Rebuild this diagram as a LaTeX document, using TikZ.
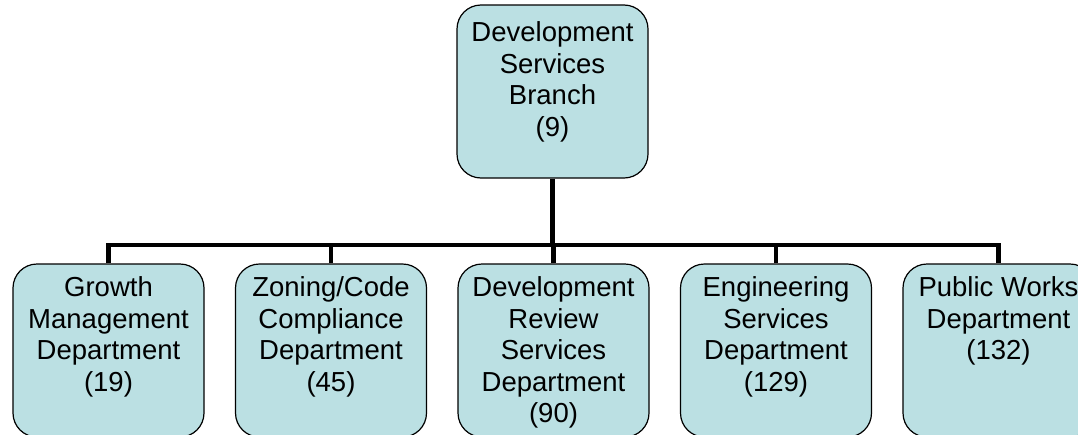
\documentclass[tikz,border=0pt]{standalone}
\usepackage{fontspec}
\setmainfont{Liberation Sans}
\usetikzlibrary{positioning}
\definecolor{cajacolor}{RGB}{187,224,227}
\tikzset{
  caja/.style={draw=black, line width=1.2pt, fill=cajacolor, rounded corners=24pt,
    minimum width=191pt, minimum height=173pt, inner sep=0pt},
  texto/.style={align=center, inner sep=0pt, font=\fontsize{27.5}{31.6}\selectfont},
  enlace/.style={line width=4.8pt},
}

\begin{document}
\begin{tikzpicture}[x=1pt, y=-1pt]
  % Marco de la figura
  \useasboundingbox (0,0) rectangle (1078,434);
  \clip (0,0) rectangle (1078,434);

  % Caja superior
  \node[caja] (rama) at (552.5,91.5) {};
  \node[texto, below=17pt of rama.north] (trama) {Development\\Services\\Branch\\(9)};

  % Cajas de los departamentos
  \node[caja] (gm) at (108.5,350.5) {};
  \node[caja] (zc) at (331,350.5) {};
  \node[caja] (dr) at (553.5,350.5) {};
  \node[caja] (es) at (776,350.5) {};
  \node[caja] (pw) at (998.5,350.5) {};

  % Textos de los departamentos
  \node[texto, below=13pt of gm.north] (tgm) {Growth\\Management\\Department\\(19)};
  \node[texto, below=13pt of zc.north] (tzc) {Zoning/Code\\Compliance\\Department\\(45)};
  \node[texto, below=13pt of dr.north] (tdr) {Development\\Review\\Services\\Department\\(90)};
  \node[texto, below=13pt of es.north] (tes) {Engineering\\Services\\Department\\(129)};
  \node[texto, below=13pt of pw.north] (tpw) {Public Works\\Department\\(132)};

  % Barra de enlace
  \coordinate (bus) at (552.5,245);
  \draw[enlace] (rama.south) -- (bus);
  \draw[enlace] (gm.north) |- (bus);
  \draw[enlace] (zc.north) |- (bus);
  \draw[enlace] (dr.north) |- (bus);
  \draw[enlace] (es.north) |- (bus);
  \draw[enlace] (pw.north) |- (bus);
\end{tikzpicture}
\end{document}
